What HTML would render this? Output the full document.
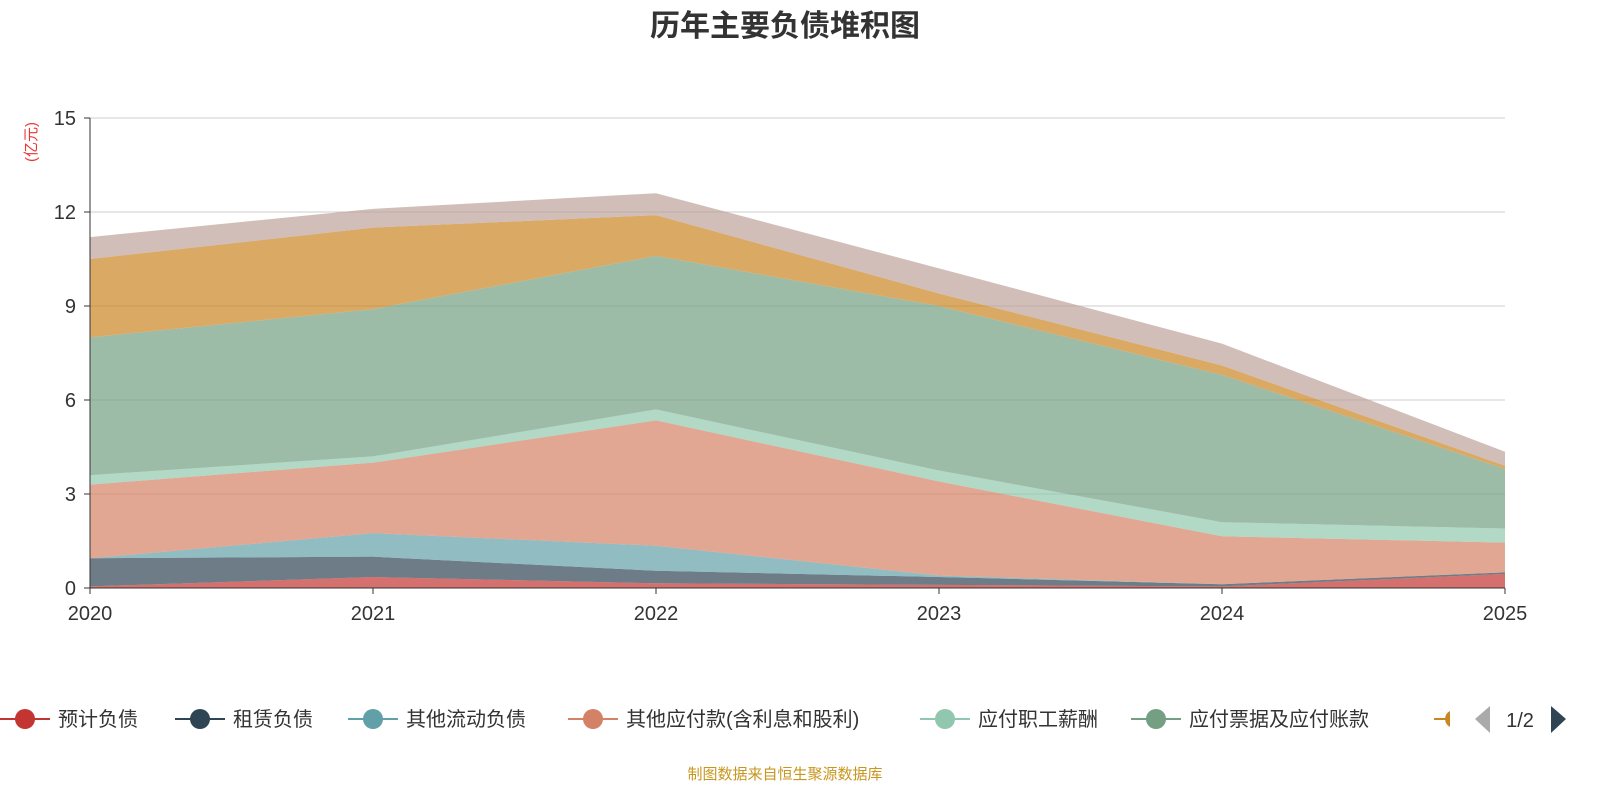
<!DOCTYPE html>
<html><head><meta charset="utf-8"><style>
body{margin:0;width:1600px;height:800px;background:#fff;overflow:hidden;font-family:"Liberation Sans","Noto Sans CJK SC",sans-serif}
</style></head><body>
<svg id="c" width="1600" height="800">
<text x="785" y="36" text-anchor="middle" font-size="30" font-weight="bold" fill="#333" font-family="Liberation Sans,Noto Sans CJK SC,sans-serif">历年主要负债堆积图</text>
<text transform="translate(36,142) rotate(-90)" text-anchor="middle" font-size="15" fill="#e33" font-family="Liberation Sans,Noto Sans CJK SC,sans-serif">(亿元)</text>
<g id="grid"></g><g id="areas"></g><g id="axes"></g><g id="legend"></g>
<text x="785" y="779" text-anchor="middle" font-size="15" fill="#c8961e" font-family="Liberation Sans,Noto Sans CJK SC,sans-serif">制图数据来自恒生聚源数据库</text>
</svg>
<script>
const years=["2020","2021","2022","2023","2024","2025"];
const names=["预计负债","租赁负债","其他流动负债","其他应付款(含利息和股利)","应付职工薪酬","应付票据及应付账款","短期借款","其他"];
const colors=["#c23531","#2f4554","#61a0a8","#d48265","#91c7ae","#749f83","#ca8622","#bda29a"];
const s0=[0.05,0.35,0.15,0.1,0.05,0.45];
const s1=[0.9,0.65,0.4,0.25,0.07,0.05];
const s2=[0,0.75,0.8,0.05,0,0];
const s3=[2.35,2.25,4.0,3.0,1.53,0.95];
const s4=[0.3,0.2,0.35,0.35,0.45,0.45];
const s5=[4.4,4.7,4.9,5.25,4.7,1.9];
const s6=[2.5,2.6,1.3,0.4,0.3,0.1];
const s7=[0.7,0.6,0.7,0.8,0.7,0.45];
const series=[s0,s1,s2,s3,s4,s5,s6,s7];
const yTicks=[0,3,6,9,12,15];
const NS="http://www.w3.org/2000/svg";
const X=i=>90+i*283, Y=v=>588-v*(470/15);
function mk(t,a,p){const e=document.createElementNS(NS,t);for(const k in a)e.setAttribute(k,a[k]);p.appendChild(e);return e;}
const grid=document.getElementById('grid'),areas=document.getElementById('areas'),axes=document.getElementById('axes'),leg=document.getElementById('legend');
const F="Liberation Sans,Noto Sans CJK SC,sans-serif";
yTicks.forEach(t=>{
 if(t>0){const l=mk('line',{x1:90,x2:1505,y1:Y(t),y2:Y(t),stroke:'#ccc'},grid);
 
 }
 const tx=mk('text',{x:76,y:Y(t)+7,'text-anchor':'end','font-size':20,fill:'#333','font-family':F},axes);tx.textContent=t;
 
 
 mk('line',{x1:84,x2:90,y1:Y(t),y2:Y(t),stroke:'#333'},axes);
});
let base=years.map(()=>0);
series.forEach((s,k)=>{
 const top=s.map((v,i)=>base[i]+v);
 let d='M'+top.map((v,i)=>X(i)+','+Y(v)).join('L');
 for(let i=years.length-1;i>=0;i--)d+='L'+X(i)+','+Y(base[i]);
 const p=mk('path',{d:d+'Z',fill:colors[k],'fill-opacity':0.7},areas);
 
 
 base=top;
});
mk('line',{x1:90,x2:90,y1:118,y2:588,stroke:'#333'},axes);
mk('line',{x1:90,x2:1505,y1:588,y2:588,stroke:'#333'},axes);
years.forEach((y,i)=>{
 mk('line',{x1:X(i),x2:X(i),y1:588,y2:594,stroke:'#333'},axes);
 const t=mk('text',{x:X(i),y:620,'text-anchor':'middle','font-size':20,fill:'#333','font-family':F},axes);t.textContent=y;
 
 
});
const lx=[0,175,348,568,920,1131];
lx.forEach((x,k)=>{
 const g=mk('g',{},leg);
 
 
 mk('line',{x1:x,x2:x+50,y1:719,y2:719,stroke:colors[k],'stroke-width':2},g);
 mk('circle',{cx:x+25,cy:719,r:10,fill:colors[k]},g);
 const t=mk('text',{x:x+58,y:726,'font-size':20,fill:'#333','font-family':F},g);t.textContent=names[k];
});
mk('line',{x1:1434,x2:1448,y1:719,y2:719,stroke:colors[6],'stroke-width':2},leg);
mk('path',{d:'M1450,711 A9,9 0 0 0 1450,727Z',fill:colors[6]},leg);
const pv=mk('path',{d:'M1490,706L1475,719L1490,733Z',fill:'#aaa'},leg);


const pt=mk('text',{x:1520,y:727,'text-anchor':'middle','font-size':20,fill:'#333','font-family':F},leg);pt.textContent='1/2';
const nx=mk('path',{d:'M1551,706L1566,719L1551,733Z',fill:'#2f4554'},leg);


</script>
</body></html>
